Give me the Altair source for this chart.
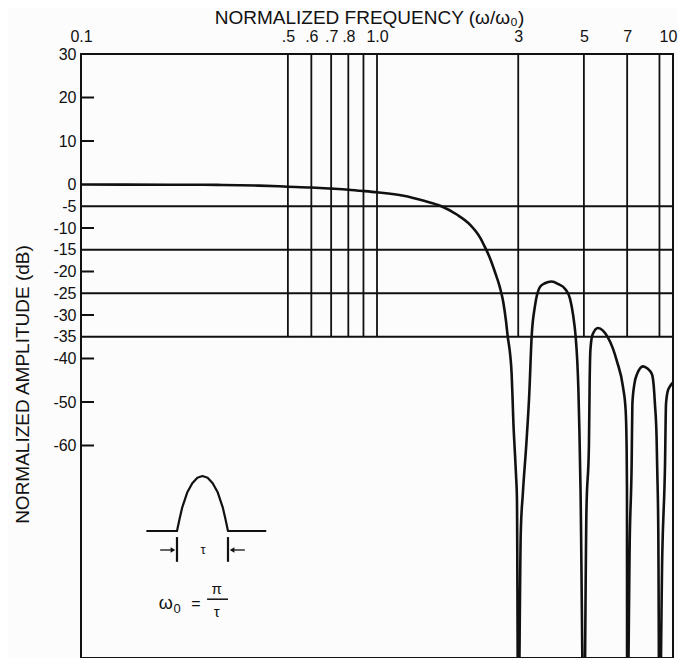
import altair as alt
import pandas as pd

# ---- data ----
# spectrum curve: normalized frequency (omega/omega0) vs normalized amplitude (dB)
curve_u = [0.1, 0.2, 0.3, 0.4, 0.5, 0.6, 0.7, 0.8, 0.9, 1.0,
           1.23, 1.43, 1.65, 1.86, 2.06, 2.23, 2.32, 2.41, 2.5, 2.6,
           2.67, 2.73, 2.765, 2.815, 2.85, 2.87, 2.89, 2.92, 2.95, 2.97, 3.0,
           3.06, 3.11, 3.2, 3.27, 3.33, 3.42, 3.55, 3.69, 3.89, 4.1,
           4.32, 4.49, 4.6, 4.69, 4.75, 4.79, 4.83, 4.87, 5.0,
           5.1, 5.2, 5.23, 5.26, 5.35, 5.58, 5.8, 6.03, 6.25, 6.47,
           6.78, 6.92, 6.97, 6.99, 7.0,
           7.15, 7.25, 7.29, 7.4, 7.56, 7.92, 8.2, 8.49, 8.6, 8.69,
           8.8, 8.85, 8.92, 9.0,
           9.2, 9.4, 9.47, 9.6, 9.77, 10.0]
curve_db = [0.0, -0.05, -0.1, -0.25, -0.5, -0.7, -0.95, -1.2, -1.5, -1.8,
            -2.6, -3.7, -5.0, -6.9, -9.2, -12.2, -14.5, -17.0, -20.0, -23.6,
            -27.0, -31.6, -35.0, -38.8, -43.5, -49, -55, -61, -67, -72, -130,
            -80, -71, -59, -48, -35, -27.8, -23.6, -22.7, -22.3, -22.9,
            -24.0, -26.3, -30.1, -35.0, -40.7, -47, -57, -70, -130,
            -75, -60, -45, -38, -34.5, -33.0, -33.6, -35.2, -37.5, -40.7,
            -46.6, -52, -60, -70, -130,
            -80, -64, -50.5, -46, -43.6, -41.8, -42.3, -43.6, -46, -50.5,
            -58, -66, -80, -130,
            -85, -64, -50.5, -47.5, -46.4, -45.5]

grid_freqs = [0.5, 0.6, 0.7, 0.8, 0.9, 1.0, 3, 5, 7, 9]
grid_levels = [-5, -15, -25, -35]
x_tick_values = [0.1, 0.5, 0.6, 0.7, 0.8, 1.0, 3, 5, 7, 10]
x_tick_labels = ["0.1", ".5", ".6", ".7", ".8", "1.0", "3", "5", "7", "10"]
y_tick_values = [30, 20, 10, 0, -5, -10, -15, -20, -25, -30, -35, -40, -50, -60]
y_inward_ticks = [20, 10, -10, -20, -30, -40, -50, -60]

# inset: cosine pulse (time in units of tau, amplitude relative to peak)
pulse_t = [-0.6, 0, 0.05, 0.1, 0.2, 0.3, 0.4, 0.5, 0.6, 0.7, 0.8, 0.9, 0.95, 1.0, 1.75]
pulse_a = [0, 0, 0.22, 0.42, 0.7, 0.87, 0.97, 1.0, 0.97, 0.87, 0.7, 0.42, 0.22, 0, 0]
marker_t = [0, 1]
marker_a_top = [-0.11, -0.11]
marker_a_bottom = [-0.56, -0.56]
arrow_tail_t = [-0.33, 1.33]
arrow_tip_t = [-0.08, 1.08]
arrow_a = [-0.345, -0.345]
arrow_shape = ["triangle-right", "triangle-left"]
frac_t = [0.59]
frac_t2 = [1.0]
frac_a = [-1.24]
inset_text = ["\u03c4", "\u03c9", "0", "=", "\u03c0", "\u03c4"]
inset_text_t = [0.51, -0.22, 0.0, 0.37, 0.78, 0.78]
inset_text_a = [-0.35, -1.33, -1.42, -1.33, -1.06, -1.47]
inset_text_size = [13, 18, 13, 16, 15, 15]

INK = "#111111"
FONT = "Liberation Sans"

# inset placement: inset units -> main chart units (log frequency, dB)
def u_expr(f):
    return "pow(10, -0.6757 + 0.1723 * datum.%s)" % f

def db_expr(f):
    return "-79.66 + 12.64 * datum.%s" % f

xs = alt.Scale(type="log", domain=[0.1, 10], nice=False)
ys = alt.Scale(domain=[-108.85, 30], nice=False, zero=False)

label_expr = "{}[indexof({}, datum.value)]".format(
    "[" + ",".join("'%s'" % s for s in x_tick_labels) + "]",
    "[" + ",".join(str(v) for v in x_tick_values) + "]",
)

x_axis = alt.Axis(
    orient="top", values=x_tick_values, labelExpr=label_expr,
    labelFontSize=16, labelPadding=10, labelFlush=False, labelOverlap=False,
    labelOffset={"condition": {"test": "datum.value == 10", "value": -5}, "value": 0},
    ticks=False, tickSize=0, domain=False, grid=False,
    titleFontSize=19, titleX=288, titleY=-31, titleAlign="center",
    titleBaseline="alphabetic", titleFontWeight="normal",
)
y_axis = alt.Axis(
    values=y_tick_values,
    labelExpr="datum.value < 0 ? '-' + abs(datum.value) : '' + datum.value",
    labelFontSize=16, labelPadding=5, labelOverlap=False, labelFlush=False,
    ticks=False, tickSize=0, domain=False, grid=False,
    titleFontSize=19, titleX=-59, titleY=330, titleAngle=270,
    titleAlign="center", titleBaseline="middle", titleFontWeight="normal",
)

curve = alt.Chart(pd.DataFrame({"u": curve_u, "db": curve_db})).mark_line(
    color=INK, strokeWidth=2.6, clip=True, strokeJoin="round", interpolate="monotone"
).encode(
    x=alt.X("u:Q", scale=xs, axis=x_axis, title="NORMALIZED FREQUENCY (\u03c9/\u03c9\u2080)"),
    y=alt.Y("db:Q", scale=ys, axis=y_axis, title="NORMALIZED AMPLITUDE (dB)"),
)

vgrid = alt.Chart(pd.DataFrame({"u": grid_freqs})).mark_rule(
    color=INK, strokeWidth=1.8
).encode(
    x=alt.X("u:Q"),
    y=alt.YDatum(30),
    y2=alt.Y2Datum(-35),
)

hgrid = alt.Chart(pd.DataFrame({"db": grid_levels})).mark_rule(
    color=INK, strokeWidth=1.8
).encode(
    y=alt.Y("db:Q"),
)

inward = alt.Chart(pd.DataFrame({"db": y_inward_ticks})).mark_rule(
    color=INK, strokeWidth=2
).encode(
    y=alt.Y("db:Q"),
    x=alt.value(0),
    x2=alt.value(13),
)

pulse = alt.Chart(pd.DataFrame({"t": pulse_t, "a": pulse_a})).transform_calculate(
    u=u_expr("t"), db=db_expr("a")
).mark_line(color=INK, strokeWidth=2.2, strokeJoin="round").encode(
    x=alt.X("u:Q"), y=alt.Y("db:Q"),
)

markers = alt.Chart(pd.DataFrame({
    "t": marker_t, "a1": marker_a_top, "a2": marker_a_bottom
})).transform_calculate(
    u=u_expr("t"), db=db_expr("a1"), db2=db_expr("a2")
).mark_rule(color=INK, strokeWidth=2.2).encode(
    x=alt.X("u:Q"), y=alt.Y("db:Q"), y2="db2:Q",
)

arrows_df = pd.DataFrame({
    "t1": arrow_tail_t, "t2": arrow_tip_t, "a": arrow_a, "shape": arrow_shape
})
arrow_shafts = alt.Chart(arrows_df).transform_calculate(
    u=u_expr("t1"), u2=u_expr("t2"), db=db_expr("a")
).mark_rule(color=INK, strokeWidth=1.3).encode(
    x=alt.X("u:Q"), x2="u2:Q", y=alt.Y("db:Q"),
)
arrow_heads = alt.Chart(arrows_df).transform_calculate(
    u=u_expr("t2"), db=db_expr("a")
).mark_point(color=INK, filled=True, opacity=1, size=28).encode(
    x=alt.X("u:Q"), y=alt.Y("db:Q"),
    shape=alt.Shape("shape:N", scale=None, legend=None),
)

frac_bar = alt.Chart(pd.DataFrame({"t": frac_t, "t2": frac_t2, "a": frac_a})).transform_calculate(
    u=u_expr("t"), u2=u_expr("t2"), db=db_expr("a")
).mark_rule(color=INK, strokeWidth=1.5).encode(
    x=alt.X("u:Q"), x2="u2:Q", y=alt.Y("db:Q"),
)

texts = alt.Chart(pd.DataFrame({
    "s": inset_text, "t": inset_text_t, "a": inset_text_a, "fs": inset_text_size
})).transform_calculate(
    u=u_expr("t"), db=db_expr("a")
).mark_text(color=INK, font=FONT, align="center", baseline="middle").encode(
    x=alt.X("u:Q"), y=alt.Y("db:Q"),
    text="s:N",
    size=alt.Size("fs:Q", scale=None, legend=None),
)

chart = alt.layer(
    curve, hgrid, vgrid, inward, pulse, markers, arrow_shafts, arrow_heads, frac_bar, texts
).properties(
    width=592, height=604,
    padding={"left": 73, "top": 46, "right": 5, "bottom": 0},
    autosize=alt.AutoSizeParams(type="none"),
    background="#fcfcfc",
).configure_view(
    stroke=INK, strokeWidth=2
).configure_axis(
    labelFont=FONT, titleFont=FONT, labelColor=INK, titleColor=INK
)

chart.save("out.html", embed_options={"renderer": "svg", "actions": False})
